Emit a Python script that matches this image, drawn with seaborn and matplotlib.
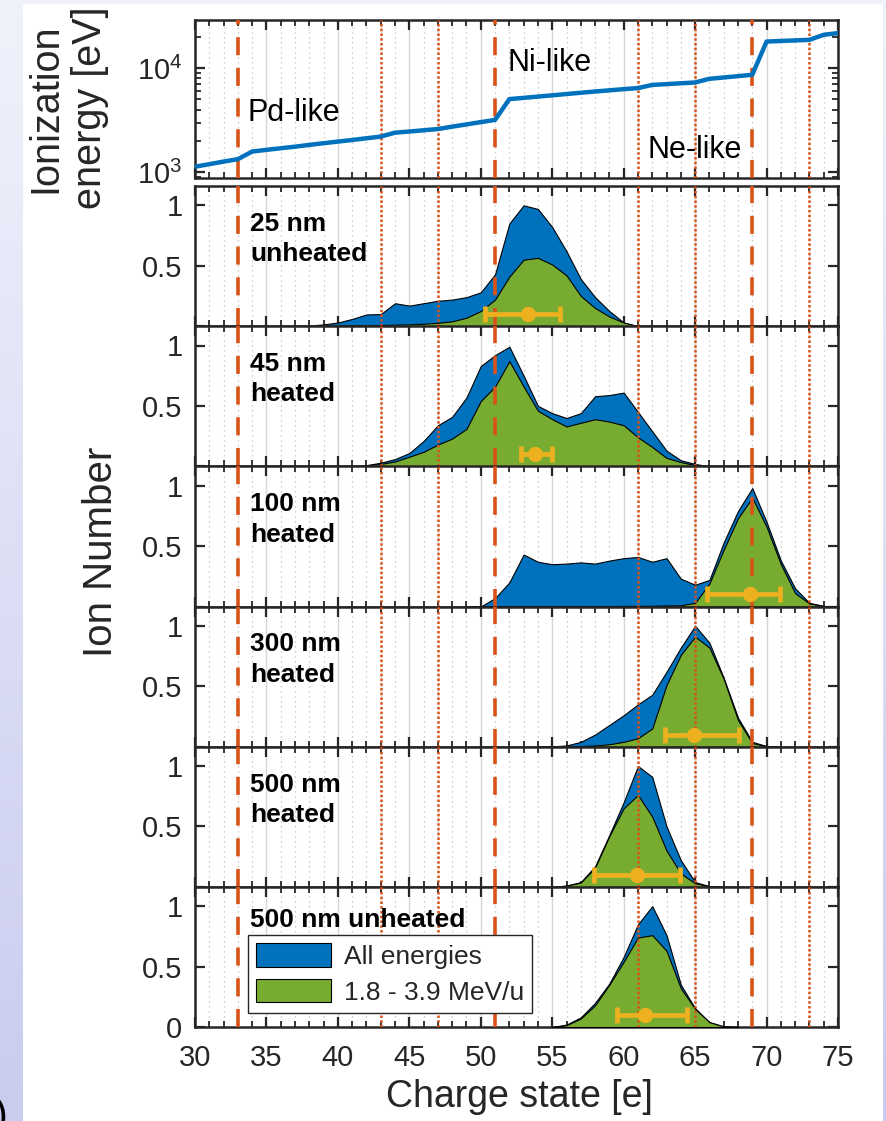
import numpy as np
import matplotlib
matplotlib.use("Agg")
import matplotlib.pyplot as plt
from matplotlib.patches import Patch, Rectangle
from matplotlib.ticker import MultipleLocator, LogLocator, NullFormatter
import seaborn as sns

sns.set_theme(style="white")
plt.rcParams["font.family"] = ["Liberation Sans", "DejaVu Sans"]
plt.rcParams["mathtext.fontset"] = "custom"
plt.rcParams["mathtext.rm"] = "Liberation Sans"
plt.rcParams["mathtext.it"] = "Liberation Sans:italic"
plt.rcParams["mathtext.bf"] = "Liberation Sans:bold"

BLUE = "#0072BD"
GREEN = "#77AC30"
ORANGE = "#D95319"
GOLD = "#EDB120"
INK = "#262626"

# ---------------- data ----------------
# ionization energy of gold ions [eV] versus charge state
ip_charge = list(range(30, 76))
ip_energy = [1130, 1195, 1265, 1335, 1580, 1640, 1700, 1760, 1830, 1900,
             1970, 2040, 2120, 2200, 2400, 2460, 2530, 2600, 2740, 2880,
             3030, 3180, 5040, 5180, 5330, 5480, 5640, 5800, 5960, 6120,
             6280, 6430, 6900, 7020, 7150, 7280, 7900, 8130, 8380, 8630,
             18000, 18230, 18460, 18700, 20900, 21700]

# closed shells (dashed) and sub-shell closures (dotted)
closed_shells = [33, 51, 69]
sub_shells = [43, 47, 61, 65, 73]
shell_names = ["Pd-like", "Ni-like", "Ne-like"]

# normalized charge-state spectra: all energies / 1.8-3.9 MeV/u window
q_25u = list(range(37, 63))
all_25u = [0.0, 0.005, 0.015, 0.03, 0.06, 0.097, 0.10, 0.19, 0.17, 0.19,
           0.21, 0.22, 0.24, 0.28, 0.43, 0.85, 1.0, 0.97, 0.82, 0.62,
           0.39, 0.24, 0.125, 0.03, 0.0, 0.0]
sel_25u = [0.0, 0.0, 0.0, 0.002, 0.004, 0.006, 0.01, 0.012, 0.015, 0.02,
           0.028, 0.04, 0.07, 0.125, 0.22, 0.41, 0.55, 0.565, 0.51, 0.42,
           0.25, 0.15, 0.08, 0.03, 0.0, 0.0]

q_45h = list(range(41, 67))
all_45h = [0.0, 0.01, 0.03, 0.06, 0.11, 0.21, 0.34, 0.41, 0.57, 0.83,
           0.92, 0.99, 0.75, 0.50, 0.44, 0.40, 0.44, 0.58, 0.59, 0.61,
           0.45, 0.29, 0.13, 0.05, 0.02, 0.0]
sel_45h = [0.0, 0.008, 0.02, 0.04, 0.08, 0.12, 0.18, 0.23, 0.31, 0.54,
           0.66, 0.87, 0.66, 0.46, 0.39, 0.33, 0.36, 0.39, 0.37, 0.34,
           0.24, 0.16, 0.07, 0.035, 0.01, 0.0]

q_100h = list(range(49, 76))
all_100h = [0.0, 0.0, 0.07, 0.20, 0.43, 0.37, 0.35, 0.355, 0.365, 0.355,
            0.38, 0.40, 0.41, 0.37, 0.40, 0.23, 0.18, 0.22, 0.53, 0.79,
            0.98, 0.70, 0.38, 0.15, 0.03, 0.005, 0.0]
sel_100h = [0.0, 0.0, 0.0, 0.0, 0.0, 0.0, 0.0, 0.0, 0.001, 0.002,
            0.004, 0.005, 0.005, 0.006, 0.008, 0.01, 0.03, 0.19, 0.47, 0.73,
            0.90, 0.66, 0.35, 0.11, 0.025, 0.004, 0.0]

q_300h = list(range(54, 72))
all_300h = [0.0, 0.002, 0.01, 0.04, 0.10, 0.18, 0.26, 0.35, 0.43, 0.62,
            0.82, 1.0, 0.86, 0.57, 0.24, 0.04, 0.005, 0.0]
sel_300h = [0.0, 0.0, 0.0, 0.005, 0.01, 0.02, 0.04, 0.07, 0.15, 0.51,
            0.76, 0.91, 0.82, 0.56, 0.22, 0.03, 0.004, 0.0]

q_500h = list(range(55, 68))
all_500h = [0.0, 0.01, 0.04, 0.17, 0.43, 0.70, 1.0, 0.91, 0.50, 0.22,
            0.04, 0.005, 0.0]
sel_500h = [0.0, 0.01, 0.035, 0.16, 0.42, 0.65, 0.76, 0.58, 0.30, 0.11,
            0.03, 0.004, 0.0]

q_500u = list(range(55, 69))
all_500u = [0.0, 0.02, 0.08, 0.20, 0.36, 0.58, 0.85, 1.0, 0.76, 0.35,
            0.155, 0.04, 0.005, 0.0]
sel_500u = [0.0, 0.015, 0.07, 0.18, 0.35, 0.54, 0.74, 0.76, 0.63, 0.32,
            0.15, 0.04, 0.005, 0.0]

panel_names = ["25 nm\nunheated", "45 nm\nheated", "100 nm\nheated",
               "300 nm\nheated", "500 nm\nheated", "500 nm unheated"]
panel_q = [q_25u, q_45h, q_100h, q_300h, q_500h, q_500u]
panel_all = [all_25u, all_45h, all_100h, all_300h, all_500h, all_500u]
panel_sel = [sel_25u, sel_45h, sel_100h, sel_300h, sel_500h, sel_500u]

# mean charge state in the energy window with its spread
mean_q = [53.3, 53.8, 68.85, 64.93, 60.9, 61.5]
mean_q_lo = [50.3, 52.8, 65.8, 62.9, 57.9, 59.5]
mean_q_hi = [55.55, 55.0, 70.95, 68.1, 63.95, 64.4]
mean_level = 0.1

legend_labels = ["All energies", "1.8 - 3.9 MeV/u"]

# ---------------- figure ----------------
W_PX, H_PX = 887, 1121
fig = plt.figure(figsize=(W_PX / 100, H_PX / 100), dpi=100)

# slide-like backdrop
bg = fig.add_axes([0, 0, 1, 1], zorder=-10)
t = np.linspace(0, 1, 256)[:, None, None]
c_top = np.array([0.94, 0.95, 0.985])
c_bot = np.array([0.79, 0.80, 0.935])
bg.imshow(c_top + (c_bot - c_top) * t, aspect="auto", extent=[0, 1, 0, 1],
          origin="upper")
bg.add_patch(Rectangle((23 / W_PX, 0), (883 - 23) / W_PX, 1 - 4 / H_PX,
                       facecolor="white", edgecolor="none"))
bg.set_xlim(0, 1)
bg.set_ylim(0, 1)
bg.set_axis_off()


def fy(px):
    return 1 - px / H_PX


LEFT, RIGHT = 195 / W_PX, 838 / W_PX
AW = RIGHT - LEFT
TICK_FS = 21


def style_axis(ax):
    ax.set_xlim(30, 75)
    ax.xaxis.set_major_locator(MultipleLocator(5))
    ax.xaxis.set_minor_locator(MultipleLocator(1))
    ax.grid(False)
    ax.grid(True, which="major", axis="x", color="#d6d6d6", lw=1.0, ls="-", zorder=0)
    ax.grid(True, which="minor", axis="x", color="#bdbdbd", lw=0.9,
            ls=(0, (1, 3)), zorder=0)
    ax.set_axisbelow(True)
    ax.tick_params(axis="both", which="both", direction="in", colors=INK,
                   labelsize=TICK_FS, top=True, bottom=True, left=True, right=True)
    ax.tick_params(axis="both", which="major", length=7, width=1.6)
    ax.tick_params(axis="both", which="minor", length=4, width=1.3)
    ax.tick_params(axis="x", pad=12)
    ax.tick_params(axis="y", pad=9)
    for sp in ax.spines.values():
        sp.set_color(INK)
        sp.set_linewidth(1.8)
        sp.set_visible(True)
    ax.set_facecolor("white")


def shell_lines(ax):
    for q in closed_shells:
        ax.axvline(q, color=ORANGE, lw=2.6, ls=(0, (5, 3.5)), zorder=5)
    for q in sub_shells:
        ax.axvline(q, color=ORANGE, lw=1.8, ls=(0, (1, 0.9)), zorder=5)


# ---- ionization energy panel ----
ax0 = fig.add_axes([LEFT, fy(178), AW, (178 - 20) / H_PX])
style_axis(ax0)
ax0.set_yscale("log")
ax0.set_ylim(880, 29000)
sns.lineplot(x=ip_charge, y=ip_energy, ax=ax0, color=BLUE, lw=3.2, zorder=6)
ax0.yaxis.set_major_locator(LogLocator(base=10, numticks=10))
ax0.yaxis.set_minor_locator(LogLocator(base=10, subs=np.arange(2, 10), numticks=10))
ax0.yaxis.set_minor_formatter(NullFormatter())
ax0.tick_params(axis="x", labelbottom=False)
shell_lines(ax0)
for name, qx, ey in zip(shell_names, [33.7, 51.9, 61.7], [3110, 9480, 1370]):
    ax0.text(qx, ey, name, fontsize=22, color="black", ha="left",
             va="baseline", zorder=8)

# ---- charge-state spectra panels ----
top_px = 186
ph = (1027 - 186) / 6
axes = []
for i in range(6):
    y0 = top_px + (i + 1) * ph
    ax = fig.add_axes([LEFT, fy(y0), AW, ph / H_PX])
    axes.append(ax)
    style_axis(ax)
    ax.set_ylim(0, 1.16)
    ax.set_yticks([0, 0.5, 1])
    ax.set_yticklabels(["0" if i == 5 else "", "0.5", "1"])
    ax.tick_params(axis="x", labelbottom=(i == 5))

    ax.fill_between(panel_q[i], panel_all[i], 0, facecolor=BLUE,
                    edgecolor="black", lw=0.8, zorder=2)
    ax.fill_between(panel_q[i], panel_sel[i], 0, facecolor=GREEN,
                    edgecolor="black", lw=0.8, zorder=3)
    shell_lines(ax)
    c = mean_q[i]
    ax.errorbar([c], [mean_level], xerr=[[c - mean_q_lo[i]], [mean_q_hi[i] - c]],
                fmt="o", color=GOLD, ms=10, elinewidth=3.4, capsize=6,
                capthick=3.4, zorder=7)
    # sample label: baseline of its last line sits 65 px above the axis
    # for two-line labels, 100 px for the single-line one
    n_lines = panel_names[i].count("\n") + 1
    base_px = 65 if n_lines == 2 else 100
    ax.text(0.0855, base_px / ph, panel_names[i], transform=ax.transAxes,
            fontsize=19, fontweight="bold", color="black", ha="left",
            va="baseline", linespacing=1.33, zorder=8)

handles = [Patch(facecolor=BLUE, edgecolor="black", lw=0.8),
           Patch(facecolor=GREEN, edgecolor="black", lw=0.8)]
leg = axes[-1].legend(handles, legend_labels, loc="upper left",
                      bbox_to_anchor=((248 - 195) / 643, (1027 - 935) / ph),
                      borderaxespad=0, fontsize=19, frameon=True, fancybox=False,
                      framealpha=1, edgecolor=INK, handlelength=2.85,
                      handleheight=1.0, labelspacing=0.38, handletextpad=0.5,
                      borderpad=0.3)
leg.get_frame().set_linewidth(1.0)
leg.set_zorder(9)

# axis titles
fig.text(519 / W_PX, fy(1097), "Charge state [e]", fontsize=27, color=INK,
         ha="center", va="center")
fig.text(101 / W_PX, fy(552), "Ion Number", fontsize=29, color=INK,
         ha="center", va="center", rotation=90)
fig.text(68 / W_PX, fy(108), "Ionization\nenergy [eV]", fontsize=28.5, color=INK,
         ha="center", va="center", rotation=90, linespacing=1.22,
         multialignment="center")
fig.text(-6 / W_PX, fy(1128), ")", fontsize=30, color="black",
         ha="left", va="baseline")

fig.savefig("out.png", dpi=100)
